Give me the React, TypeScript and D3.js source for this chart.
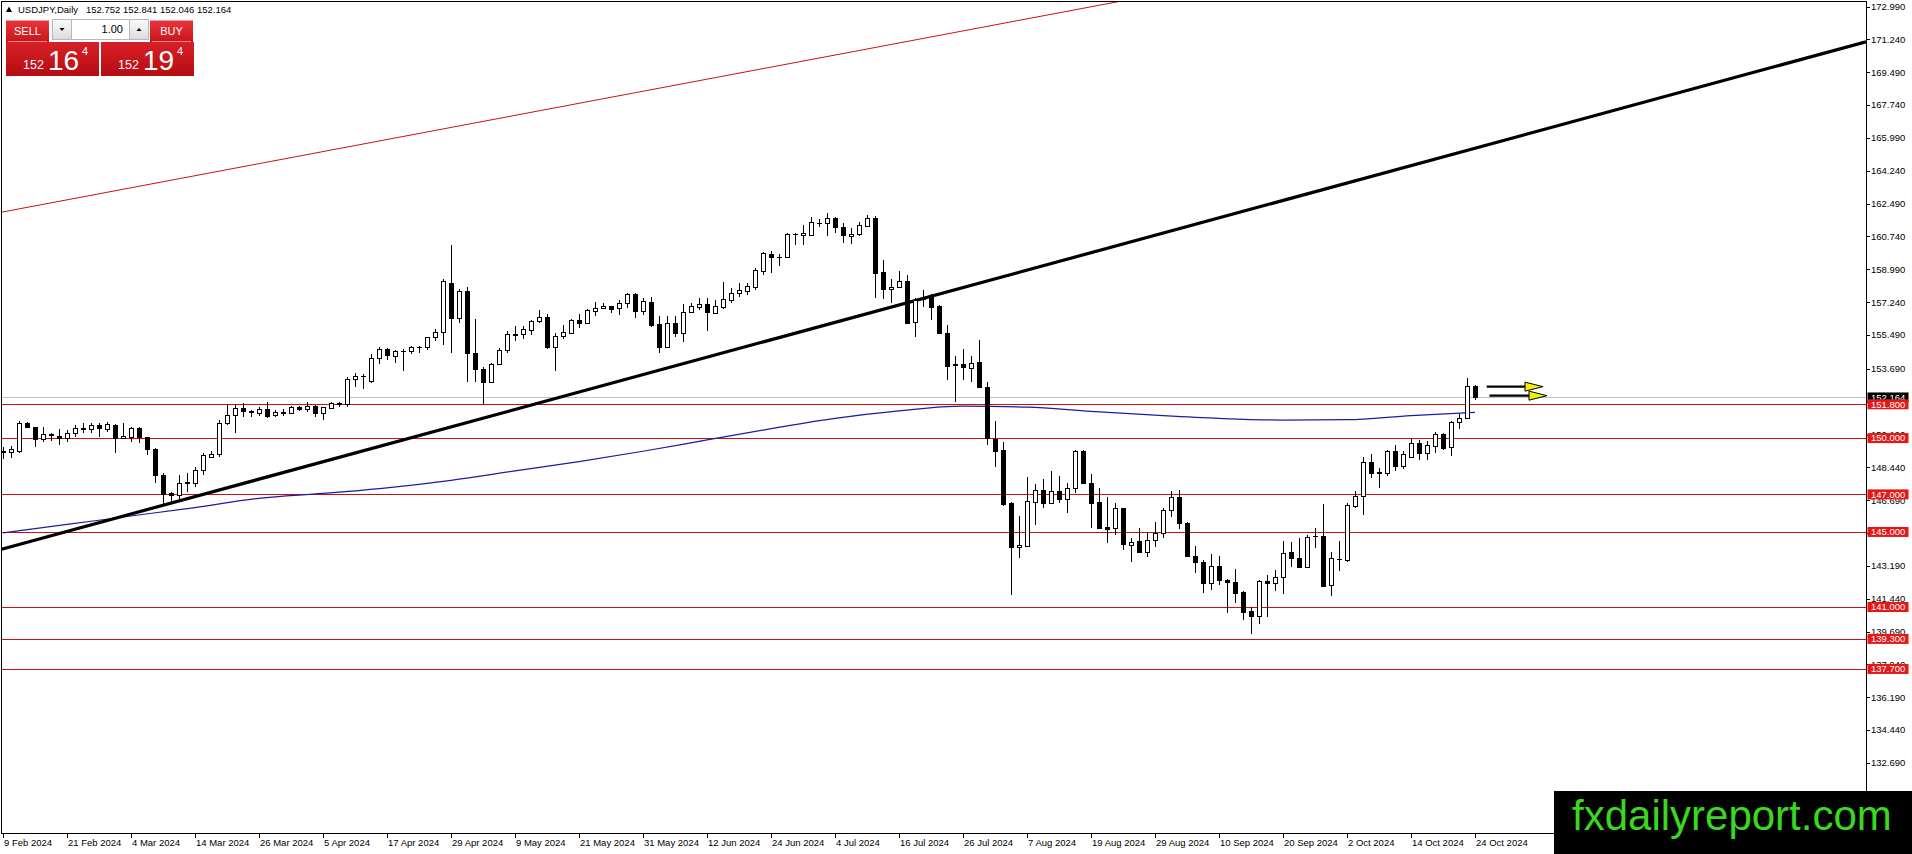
import React from 'react';
import * as d3 from 'd3';

// OHLC per daily bar, first bar = 9 Feb 2024, last = 24 Oct 2024
const candles: [number, number, number, number][] = [
  [149.25, 149.55, 148.9, 149.3], [149.26, 149.58, 148.92, 149.4], [149.31, 150.93, 149.19, 150.79],
  [150.79, 150.86, 150.52, 150.57], [150.57, 150.6, 149.54, 149.95], [149.95, 150.61, 149.81, 150.22],
  [150.15, 150.25, 149.85, 150.2], [150.11, 150.47, 149.63, 150.0], [149.99, 150.43, 149.81, 150.25],
  [150.25, 150.7, 150.08, 150.52], [150.5, 150.82, 150.29, 150.52], [150.48, 150.82, 150.29, 150.7],
  [150.7, 150.82, 150.08, 150.52], [150.48, 150.87, 150.34, 150.73], [150.7, 150.73, 149.19, 149.99],
  [149.99, 150.79, 149.95, 150.11], [150.04, 150.61, 149.81, 150.52], [150.52, 150.61, 149.72, 150.04],
  [150.04, 150.08, 149.1, 149.4], [149.4, 149.45, 147.59, 148.03], [148.03, 148.12, 146.49, 147.0],
  [147.06, 147.14, 146.49, 146.97], [146.97, 148.03, 146.7, 147.59], [147.6, 148.12, 147.14, 147.65],
  [147.59, 148.44, 147.41, 148.3], [148.3, 149.22, 148.03, 149.1], [149.01, 149.33, 148.97, 149.15],
  [149.15, 150.96, 149.01, 150.82], [150.79, 151.76, 150.7, 151.23], [151.23, 151.76, 150.25, 151.59],
  [151.59, 151.85, 151.1, 151.46], [151.4, 151.52, 151.1, 151.42], [151.32, 151.67, 151.18, 151.55],
  [151.53, 151.94, 151.05, 151.2], [151.23, 151.5, 151.14, 151.41], [151.36, 151.53, 151.18, 151.37],
  [151.32, 151.71, 151.28, 151.64], [151.64, 151.71, 151.46, 151.53], [151.53, 151.94, 151.41, 151.71],
  [151.71, 151.76, 151.1, 151.32], [151.32, 151.67, 150.96, 151.64], [151.59, 151.94, 151.59, 151.85],
  [151.82, 151.94, 151.67, 151.86], [151.8, 153.24, 151.67, 153.13], [153.13, 153.45, 152.74, 153.31],
  [153.3, 153.41, 152.6, 153.32], [153.06, 154.48, 152.95, 154.25], [154.25, 154.84, 153.95, 154.75],
  [154.75, 154.78, 154.16, 154.43], [154.39, 154.69, 153.98, 154.66], [154.64, 154.73, 153.59, 154.66],
  [154.62, 154.9, 154.5, 154.84], [154.83, 154.9, 154.55, 154.84], [154.84, 155.4, 154.69, 155.37],
  [155.37, 155.8, 155.19, 155.63], [155.63, 158.46, 154.96, 158.37], [158.28, 160.29, 154.55, 156.38],
  [156.38, 157.92, 156.11, 157.84], [157.84, 158.03, 153.0, 154.55], [154.55, 156.33, 153.0, 153.66],
  [153.66, 153.8, 151.81, 153.0], [153.0, 154.02, 152.95, 153.95], [153.95, 154.78, 153.89, 154.69],
  [154.69, 155.69, 154.55, 155.54], [155.5, 155.97, 155.19, 155.55], [155.54, 155.97, 155.26, 155.79],
  [155.76, 156.29, 155.49, 156.24], [156.24, 156.82, 156.15, 156.45], [156.45, 156.61, 154.73, 154.87],
  [154.87, 155.62, 153.6, 155.44], [155.44, 156.02, 155.26, 155.67], [155.62, 156.33, 155.54, 156.29],
  [156.29, 156.61, 155.85, 156.15], [156.15, 156.86, 156.12, 156.82], [156.79, 157.25, 156.5, 156.93],
  [156.91, 157.18, 156.86, 157.04], [157.02, 157.04, 156.68, 156.9], [156.91, 157.36, 156.56, 157.18],
  [157.18, 157.75, 156.91, 157.66], [157.66, 157.71, 156.38, 156.79], [156.79, 157.45, 156.56, 157.32],
  [157.27, 157.5, 155.93, 156.02], [156.06, 156.5, 154.55, 154.87], [154.87, 156.5, 154.84, 156.11],
  [156.11, 156.5, 155.37, 155.62], [155.62, 157.14, 155.14, 156.73], [156.73, 157.18, 156.68, 157.04],
  [157.0, 157.45, 156.82, 157.12], [157.12, 157.45, 155.72, 156.73], [156.68, 157.36, 156.61, 157.04],
  [157.0, 158.33, 156.86, 157.39], [157.36, 157.98, 157.21, 157.75], [157.75, 158.24, 157.53, 157.89],
  [157.85, 158.24, 157.62, 158.1], [158.07, 159.04, 157.89, 158.95], [158.92, 159.93, 158.69, 159.84],
  [159.81, 159.97, 158.78, 159.63], [159.65, 159.81, 159.17, 159.67], [159.67, 160.94, 159.58, 160.87],
  [160.85, 160.91, 160.29, 160.86], [160.8, 161.35, 160.29, 160.91], [160.82, 161.8, 160.77, 161.49],
  [161.46, 161.67, 161.26, 161.48], [161.44, 161.97, 160.77, 161.71], [161.71, 161.76, 160.94, 161.26],
  [161.26, 161.44, 160.38, 160.8], [160.77, 161.17, 160.34, 160.87], [160.85, 161.53, 160.77, 161.35],
  [161.32, 161.88, 161.26, 161.71], [161.71, 161.83, 157.44, 158.81], [158.87, 159.49, 157.39, 157.92],
  [157.92, 158.46, 157.18, 158.07], [158.07, 158.9, 157.98, 158.37], [158.37, 158.69, 156.08, 156.15],
  [156.2, 157.44, 155.4, 157.36], [157.42, 157.89, 156.97, 157.44], [157.62, 157.68, 156.29, 157.0],
  [157.04, 157.09, 155.54, 155.58], [155.58, 156.03, 153.09, 153.86], [153.9, 154.37, 151.94, 153.93],
  [153.95, 154.73, 153.09, 153.77], [153.72, 154.37, 153.0, 154.02], [154.03, 155.23, 152.65, 152.74],
  [152.74, 153.0, 149.63, 150.02], [149.95, 150.93, 148.48, 149.33], [149.37, 149.81, 146.38, 146.49],
  [146.52, 146.61, 141.64, 144.18], [144.18, 145.87, 143.63, 144.29], [144.27, 147.91, 144.22, 146.65],
  [146.61, 147.55, 145.37, 147.23], [147.23, 147.8, 146.26, 146.56], [146.56, 148.26, 146.56, 147.18],
  [147.18, 147.98, 146.56, 146.77], [146.77, 147.59, 146.03, 147.32], [147.32, 149.37, 147.06, 149.31],
  [149.31, 149.37, 147.59, 147.59], [147.59, 148.09, 145.19, 146.56], [146.6, 147.32, 145.19, 145.23],
  [145.25, 146.88, 144.43, 145.17], [145.19, 146.52, 144.84, 146.26], [146.26, 146.29, 144.04, 144.34],
  [144.31, 144.66, 143.42, 144.48], [144.5, 145.19, 143.9, 143.91], [143.91, 145.01, 143.68, 144.57],
  [144.57, 145.55, 144.22, 144.96], [144.96, 146.26, 144.66, 146.17], [146.17, 147.2, 145.78, 146.88],
  [146.88, 147.23, 145.14, 145.46], [145.46, 145.55, 143.72, 143.72], [143.72, 144.25, 142.83, 143.42],
  [143.42, 143.51, 141.76, 142.26], [142.26, 143.83, 141.91, 143.19], [143.19, 143.72, 142.17, 142.42],
  [142.44, 142.48, 140.66, 142.32], [142.35, 143.0, 141.23, 141.76], [141.82, 141.87, 140.3, 140.75],
  [140.8, 140.98, 139.58, 140.54], [140.54, 142.44, 140.1, 142.4], [142.39, 142.7, 140.45, 142.26],
  [142.26, 142.97, 141.87, 142.58], [142.58, 144.52, 141.69, 143.89], [143.95, 144.45, 143.15, 143.59],
  [143.59, 144.66, 143.11, 143.15], [143.15, 144.84, 143.11, 144.75], [144.77, 145.19, 144.13, 144.8],
  [144.8, 146.49, 142.05, 142.12], [142.16, 143.91, 141.59, 143.59], [143.55, 144.52, 142.94, 143.58],
  [143.5, 146.52, 143.42, 146.44], [146.38, 147.2, 146.29, 146.91], [146.91, 148.97, 145.9, 148.73],
  [148.73, 149.13, 147.86, 148.16], [148.16, 148.39, 147.32, 148.18], [148.16, 149.37, 147.98, 149.31],
  [149.31, 149.63, 148.26, 148.53], [148.53, 149.31, 148.37, 149.13], [149.01, 149.99, 148.92, 149.72],
  [149.76, 149.9, 148.83, 149.19], [149.19, 149.85, 148.83, 149.63], [149.6, 150.34, 149.22, 150.2],
  [150.2, 150.29, 149.36, 149.49], [149.51, 150.91, 149.05, 150.84], [150.84, 151.27, 150.48, 151.05],
  [151.05, 153.22, 151.0, 152.76], [152.752, 152.841, 152.046, 152.164],
];

// moving average: [bar index, price]
const maPoints: [number, number][] = [
  [0, 144.95], [8, 145.4], [16, 145.85], [24, 146.3], [32, 146.79], [40, 147.05], [48, 147.35],
  [56, 147.75], [64, 148.25], [72, 148.75], [80, 149.3], [88, 149.9], [96, 150.5], [104, 151.05],
  [112, 151.45], [120, 151.7], [128, 151.65], [136, 151.42], [144, 151.22], [152, 151.05],
  [160, 150.96], [168, 150.98], [176, 151.2], [184, 151.37],
];

const levels = [151.8, 150.0, 147.0, 145.0, 141.0, 139.3, 137.7];
const lastPrice = 152.164;

// trend lines as two anchor points [bar, price]
const blackTrend: [number, number][] = [[0, 144.1], [200, 167.3]];
const redTrend: [number, number][] = [[0, 162.05], [140, 173.3]];

// arrows: [start bar, tip bar, price]
const arrows: [number, number, number][] = [[185.46, 192.5, 152.74], [185.8, 193.0, 152.26]];

const priceTicks = [
  '172.990', '171.240', '169.490', '167.740', '165.990', '164.240', '162.490', '160.740',
  '158.990', '157.240', '155.490', '153.690', '151.940', '150.190', '148.440', '146.690',
  '144.940', '143.190', '141.440', '139.690', '137.940', '136.190', '134.440', '132.690',
];

const dateTicks = [
  '9 Feb 2024', '21 Feb 2024', '4 Mar 2024', '14 Mar 2024', '26 Mar 2024', '5 Apr 2024',
  '17 Apr 2024', '29 Apr 2024', '9 May 2024', '21 May 2024', '31 May 2024', '12 Jun 2024',
  '24 Jun 2024', '4 Jul 2024', '16 Jul 2024', '26 Jul 2024', '7 Aug 2024', '19 Aug 2024',
  '29 Aug 2024', '10 Sep 2024', '20 Sep 2024', '2 Oct 2024', '14 Oct 2024', '24 Oct 2024',
];

const W = 1912;
const H = 854;
const plotRight = 1866;
const plotBottom = 833;
const font = '"Liberation Sans", Arial, sans-serif';

export default function App() {
  const x = d3.scaleLinear().domain([0, 184]).range([3, 1475]);
  const y = d3.scaleLinear().domain([128.96, 173.34]).range([plotBottom, 0]);

  const lineAt = (pts: [number, number][], b: number) => {
    const [[b0, p0], [b1, p1]] = pts;
    return p0 + ((p1 - p0) * (b - b0)) / (b1 - b0);
  };
  const bLeft = x.invert(0);
  const bRight = x.invert(plotRight);

  const maPath = d3.line<[number, number]>()
    .x(d => x(d[0]))
    .y(d => y(d[1]))
    .curve(d3.curveMonotoneX)(maPoints) || '';

  const red1 = 'url(#btnRed)';
  const red2 = 'url(#boxRed)';

  return (
    <div style={{ position: 'fixed', left: 0, top: 0, width: W, height: H, background: '#fff' }}>
      <svg width={W} height={H} style={{ display: 'block' }} fontFamily={font}>
        <defs>
          <clipPath id="plot">
            <rect x={2} y={2} width={plotRight - 2} height={plotBottom - 2} />
          </clipPath>
          <linearGradient id="btnRed" x1="0" y1="0" x2="0" y2="1">
            <stop offset="0" stopColor="#e8343a" />
            <stop offset="1" stopColor="#c8141b" />
          </linearGradient>
          <linearGradient id="boxRed" x1="0" y1="0" x2="0" y2="1">
            <stop offset="0" stopColor="#d82027" />
            <stop offset="1" stopColor="#b50c12" />
          </linearGradient>
          <linearGradient id="spin" x1="0" y1="0" x2="0" y2="1">
            <stop offset="0" stopColor="#fbfbfb" />
            <stop offset="1" stopColor="#dcdcdc" />
          </linearGradient>
        </defs>

        <g clipPath="url(#plot)">
          {/* current price line */}
          <line x1={2} x2={plotRight} y1={Math.round(y(lastPrice)) + 0.5} y2={Math.round(y(lastPrice)) + 0.5}
            stroke="#c0c0c0" strokeWidth={1} />
          {/* horizontal levels */}
          {levels.map(p => (
            <line key={p} x1={2} x2={plotRight} y1={Math.round(y(p)) + 0.5} y2={Math.round(y(p)) + 0.5}
              stroke="#cc1010" strokeWidth={1} />
          ))}
          {/* upper red channel line */}
          <line x1={x(bLeft)} y1={y(lineAt(redTrend, bLeft))} x2={x(bRight)} y2={y(lineAt(redTrend, bRight))}
            stroke="#cc1010" strokeWidth={1} />
          {/* moving average */}
          <path d={maPath} fill="none" stroke="#1c1ca0" strokeWidth={1.2} />
          {/* black trend line */}
          <line x1={x(bLeft)} y1={y(lineAt(blackTrend, bLeft))} x2={x(bRight)} y2={y(lineAt(blackTrend, bRight))}
            stroke="#000" strokeWidth={3.2} />

          {/* candles */}
          <g shapeRendering="crispEdges">
            {candles.map(([o, h, l, c], i) => {
              const cx = Math.round(x(i));
              const top = Math.round(y(Math.max(o, c)));
              const bot = Math.round(y(Math.min(o, c)));
              const bull = c >= o;
              return (
                <g key={i}>
                  <line x1={cx + 0.5} x2={cx + 0.5} y1={y(h)} y2={y(l)} stroke="#000" strokeWidth={1} />
                  {bot - top < 1 ? (
                    <line x1={cx - 2} x2={cx + 3} y1={top + 0.5} y2={top + 0.5} stroke="#000" strokeWidth={1} />
                  ) : (
                    <rect x={cx - 1.5} y={top + 0.5} width={4} height={bot - top}
                      fill={bull ? '#fff' : '#000'} stroke="#000" strokeWidth={1} />
                  )}
                </g>
              );
            })}
          </g>

          {/* arrows */}
          {arrows.map(([b0, b1, p], k) => {
            const x0 = x(b0);
            const x1 = x(b1);
            const yy = y(p);
            return (
              <g key={k}>
                <line x1={x0} x2={x1 - 16} y1={yy} y2={yy} stroke="#000" strokeWidth={2.4} />
                <path d={`M${x1 - 18},${yy - 4.5} L${x1},${yy} L${x1 - 18},${yy + 4.5} Z`}
                  fill="#f2f200" stroke="#000" strokeWidth={1} />
              </g>
            );
          })}
        </g>

        {/* frame */}
        <rect x={1.5} y={1.5} width={plotRight - 1.5} height={plotBottom - 1.5} fill="none" stroke="#000" strokeWidth={1}
          shapeRendering="crispEdges" />

        {/* price axis */}
        <g fontSize={9.5} fill="#000">
          {priceTicks.map(t => {
            const yy = y(parseFloat(t));
            return (
              <g key={t}>
                <line x1={plotRight} x2={plotRight + 4} y1={Math.round(yy) + 0.5} y2={Math.round(yy) + 0.5}
                  stroke="#000" strokeWidth={1} />
                <text x={plotRight + 5} y={yy} dy="0.35em">{t}</text>
              </g>
            );
          })}
        </g>
        {/* current price label */}
        <rect x={plotRight + 1.5} y={y(lastPrice) - 5} width={41} height={10} fill="#000" />
        <text x={plotRight + 5} y={y(lastPrice)} dy="0.35em" fontSize={9.5} fill="#fff">{lastPrice.toFixed(3)}</text>
        {/* level labels */}
        {levels.map(p => (
          <g key={p}>
            <rect x={plotRight + 1.5} y={y(p) - 5} width={41} height={10} fill="#e41818" />
            <text x={plotRight + 5} y={y(p)} dy="0.35em" fontSize={9.5} fill="#fff">{p.toFixed(3)}</text>
          </g>
        ))}

        {/* time axis */}
        <g fontSize={9.5} fill="#000">
          {dateTicks.map((t, k) => {
            const xx = Math.round(x(k * 8));
            return (
              <g key={t}>
                <line x1={xx + 0.5} x2={xx + 0.5} y1={plotBottom} y2={plotBottom + 5} stroke="#000" strokeWidth={1} />
                <text x={xx + 1} y={846}>{t}</text>
              </g>
            );
          })}
        </g>

        {/* title */}
        <path d="M6,12 L9,6.5 L12,12 Z" fill="#000" />
        <text x={18} y={12.5} fontSize={9.5} fill="#000">USDJPY,Daily</text>
        <text x={86} y={12.5} fontSize={9.5} fill="#000">152.752 152.841 152.046 152.164</text>

        {/* one click trading panel */}
        <g>
          <rect x={6} y={20.5} width={43} height={21.5} fill={red1} />
          <text x={27.5} y={35} fontSize={11} fill="#fff" textAnchor="middle">SELL</text>
          <rect x={150} y={20.5} width={43} height={21.5} fill={red1} />
          <text x={171.5} y={35} fontSize={11} fill="#fff" textAnchor="middle">BUY</text>
          <line x1={8} x2={47} y1={41.5} y2={41.5} stroke="#f08a8a" />
          <line x1={152} x2={191} y1={41.5} y2={41.5} stroke="#f08a8a" />

          <rect x={52.5} y={19.5} width={19} height={20} fill="url(#spin)" stroke="#b8b8b8" />
          <path d="M59.5,28 L64.5,28 L62,31 Z" fill="#000" />
          <rect x={71.5} y={19.5} width={58} height={20} fill="#fff" stroke="#b8b8b8" />
          <text x={123} y={33} fontSize={11} fill="#000" textAnchor="end">1.00</text>
          <rect x={129.5} y={19.5} width={19} height={20} fill="url(#spin)" stroke="#b8b8b8" />
          <path d="M136.5,31 L141.5,31 L139,28 Z" fill="#000" />

          <rect x={6} y={42} width={93} height={34} fill={red2} />
          <rect x={101} y={42} width={93} height={34} fill={red2} />
          <text x={23} y={69} fontSize={12.5} fill="#fff">152</text>
          <text x={48} y={69.5} fontSize={28} fill="#fff">16</text>
          <text x={82} y={55} fontSize={11} fill="#fff">4</text>
          <text x={118} y={69} fontSize={12.5} fill="#fff">152</text>
          <text x={143} y={69.5} fontSize={28} fill="#fff">19</text>
          <text x={177} y={55} fontSize={11} fill="#fff">4</text>
        </g>

        {/* watermark */}
        <rect x={1554} y={791} width={W - 1554} height={H - 791} fill="#000" />
        <text x={1572} y={830} fontSize={42} fill="#3ad81e">fxdailyreport.com</text>
      </svg>
    </div>
  );
}
